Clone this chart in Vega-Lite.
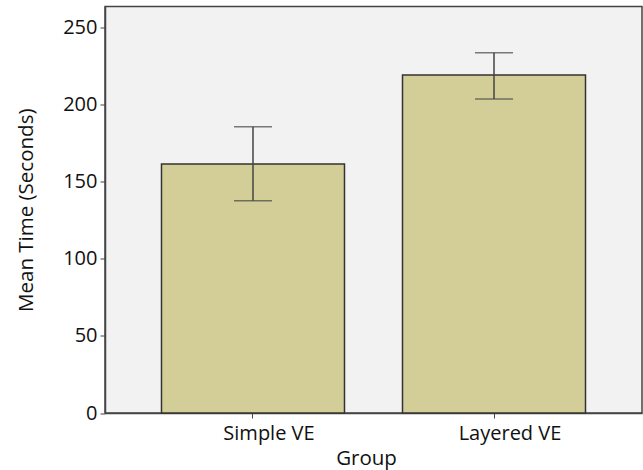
{
  "$schema": "https://vega.github.io/schema/vega-lite/v6.json",
  "autosize": {"type": "none"},
  "padding": {"left": 105, "top": 6.5, "right": 1, "bottom": 57},
  "width": 537,
  "height": 406.5,
  "background": "white",
  "config": {
    "font": "Open Sans",
    "view": {"fill": "#f2f2f2", "stroke": "#444444", "strokeWidth": 1.5},
    "axis": {
      "labelFont": "Open Sans",
      "titleFont": "Open Sans",
      "labelFontSize": 20,
      "titleFontSize": 20.5,
      "labelColor": "#111111",
      "titleColor": "#111111",
      "titleFontWeight": "normal",
      "domainColor": "#444444",
      "domainWidth": 1.5,
      "tickColor": "#444444",
      "tickWidth": 1,
      "tickSize": 5,
      "grid": false
    }
  },
  "data": {
    "values": [
      {"Group": "Simple VE", "mean": 161.4, "lo": 137.6, "hi": 185.6},
      {"Group": "Layered VE", "mean": 219.1, "lo": 203.5, "hi": 233.5}
    ]
  },
  "encoding": {
    "x": {
      "field": "Group",
      "type": "nominal",
      "sort": null,
      "scale": {"paddingInner": 0.2407, "paddingOuter": 0.2344},
      "axis": {"labelAngle": 0, "title": "Group", "labelPadding": 5, "labelOffset": 16, "titlePadding": 5, "titleX": 261}
    }
  },
  "layer": [
    {
      "mark": {"type": "bar", "fill": "#d3ce97", "stroke": "#333333", "strokeWidth": 1.5},
      "encoding": {
        "y": {
          "field": "mean",
          "type": "quantitative",
          "scale": {"domain": [0, 263.5], "nice": false, "zero": true},
          "axis": {"values": [0, 50, 100, 150, 200, 250], "title": "Mean Time (Seconds)", "labelPadding": 3, "titlePadding": 26}
        }
      }
    },
    {
      "mark": {"type": "rule", "color": "#444444", "strokeWidth": 1.5},
      "encoding": {
        "y": {"field": "lo", "type": "quantitative"},
        "y2": {"field": "hi"}
      }
    },
    {
      "mark": {"type": "tick", "color": "#444444", "size": 38, "thickness": 1.5, "orient": "horizontal"},
      "encoding": {
        "y": {"field": "lo", "type": "quantitative"}
      }
    },
    {
      "mark": {"type": "tick", "color": "#444444", "size": 38, "thickness": 1.5, "orient": "horizontal"},
      "encoding": {
        "y": {"field": "hi", "type": "quantitative"}
      }
    }
  ]
}
